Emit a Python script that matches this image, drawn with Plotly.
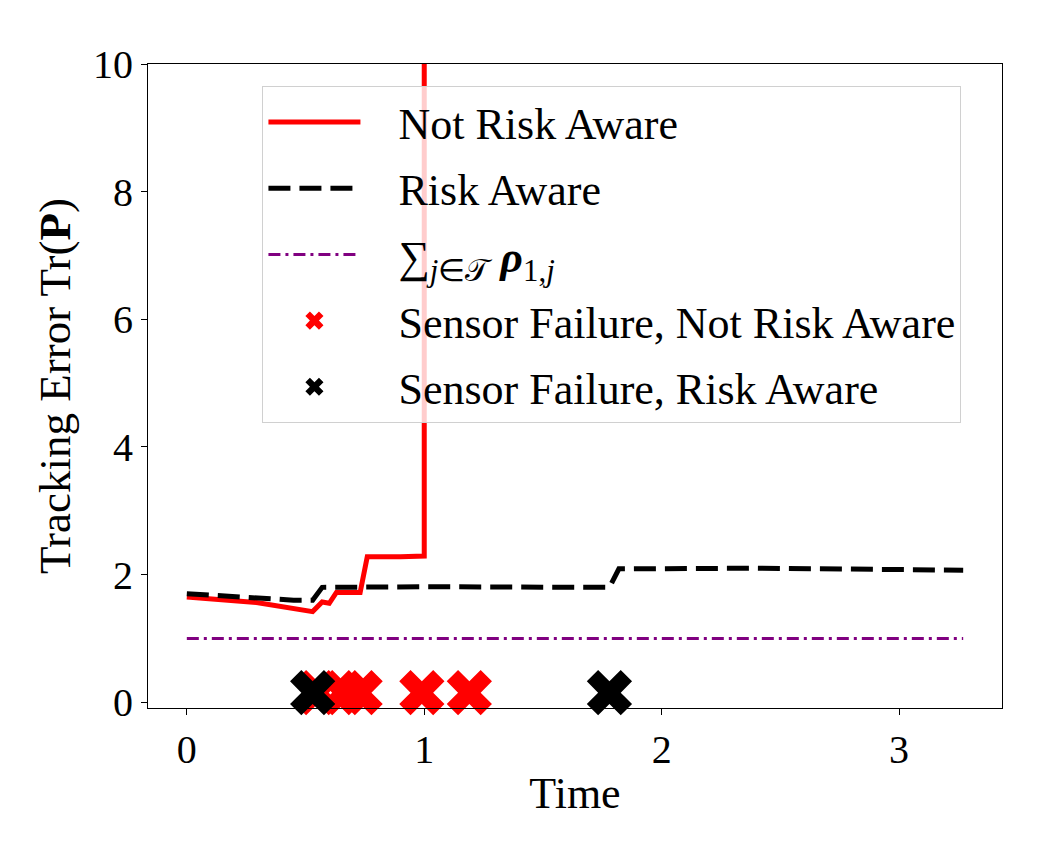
import plotly.graph_objects as go

# tracking error over time
t_not_aware = [0, 0.30, 0.53, 0.57, 0.60, 0.63, 0.73, 0.76, 0.90, 1.00, 1.00]
p_not_aware = [1.65, 1.56, 1.42, 1.57, 1.55, 1.72, 1.72, 2.28, 2.28, 2.29, 40]

t_aware = [0, 0.30, 0.45, 0.53, 0.57, 1.00, 1.50, 1.78, 1.82, 2.40, 3.27]
p_aware = [1.70, 1.63, 1.60, 1.60, 1.80, 1.81, 1.81, 1.80, 2.09, 2.10, 2.07]

t_bound = [0, 3.27]
rho_bound = [1.0, 1.0]

# sensor failures
fail_not_aware = [0.55, 0.66, 0.73, 0.99, 1.19]
fail_aware = [0.53, 1.78]
fail_level = 0.15

font = "Liberation Serif"


def label(s):
    # force the serif face on legend entries
    return "<span style='font-family:Liberation Serif'>\u00a0\u00a0\u00a0" + s + "</span>"


fig = go.Figure()
fig.add_trace(go.Scatter(x=t_not_aware, y=p_not_aware, mode="lines",
                         line=dict(color="red", width=5),
                         name=label("Not Risk Aware"), legendgroup="a"))
fig.add_trace(go.Scatter(x=t_aware, y=p_aware, mode="lines",
                         line=dict(color="black", width=5, dash="22px,9px"),
                         name=label("Risk Aware"), legendgroup="b"))
fig.add_trace(go.Scatter(x=t_bound, y=rho_bound, mode="lines",
                         line=dict(color="purple", width=3, dash="12px,5px,3px,5px"),
                         name=label("∑<sub><i>j</i>∈𝒯</sub> <b><i>ρ</i></b><sub>1,<i>j</i></sub>"),
                         legendgroup="c"))
fig.add_trace(go.Scatter(x=fail_not_aware, y=[fail_level] * len(fail_not_aware),
                         mode="markers", cliponaxis=False,
                         marker=dict(symbol="x", size=40, color="red", line=dict(width=0)),
                         name=label("Sensor Failure, Not Risk Aware"), legendgroup="d"))
fig.add_trace(go.Scatter(x=fail_aware, y=[fail_level] * len(fail_aware),
                         mode="markers", cliponaxis=False,
                         marker=dict(symbol="x", size=40, color="black", line=dict(width=0)),
                         name=label("Sensor Failure, Risk Aware"), legendgroup="e"))

axis_style = dict(showline=True, linecolor="black", linewidth=1, mirror=True,
                  ticks="outside", ticklen=6, tickwidth=1, tickcolor="black",
                  showgrid=False, zeroline=False,
                  tickfont=dict(family=font, size=40, color="black"))

fig.update_xaxes(range=[-0.1635, 3.4335], tickvals=[0, 1, 2, 3],
                 title=dict(text="Time", font=dict(family=font, size=44, color="black"), standoff=6),
                 **axis_style)
fig.update_yaxes(range=[-0.09, 10], tickvals=[0, 2, 4, 6, 8, 10],
                 title=dict(text="Tracking Error Tr(<b>P</b>)",
                            font=dict(family=font, size=45, color="black"), standoff=8),
                 **axis_style)

# the page adds an 8px body margin, so the figure is a bit smaller
fig.update_layout(
    template="none",
    width=1042, height=842,
    margin=dict(l=140, r=48, t=56, b=142),
    plot_bgcolor="white", paper_bgcolor="white",
    font=dict(family=font, size=44, color="black"),
    legend=dict(x=0.134, y=0.966, xanchor="left", yanchor="top",
                bgcolor="rgba(255,255,255,0.8)", bordercolor="#d0d0d0", borderwidth=1,
                font=dict(family=font, size=44, color="black"),
                itemwidth=92, tracegroupgap=6, traceorder="grouped"),
)

fig.write_html("out.html")
